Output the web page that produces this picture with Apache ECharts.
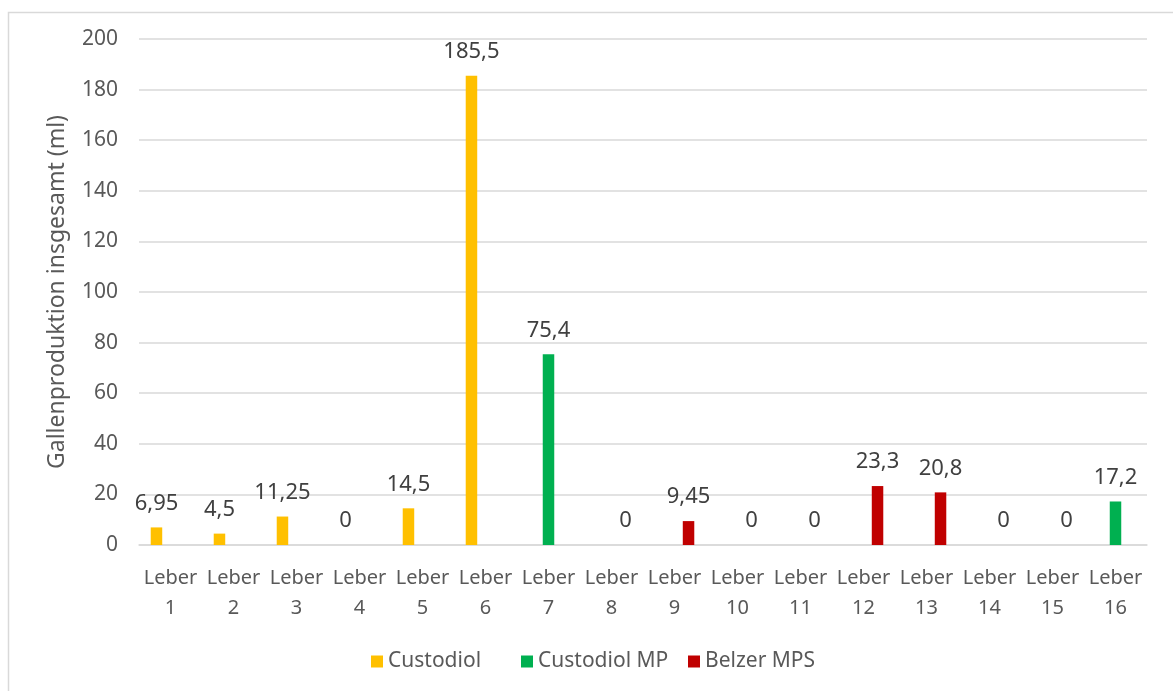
<!DOCTYPE html>
<html>
<head>
<meta charset="utf-8">
<script src="https://cdn.jsdelivr.net/npm/echarts@6/dist/echarts.min.js"></script>
<style>
html,body{margin:0;padding:0;background:#fff;}
#chart{width:1173px;height:691px;}
</style>
</head>
<body>
<div id="chart"></div>
<script>
const categories = ['Leber\n1','Leber\n2','Leber\n3','Leber\n4','Leber\n5','Leber\n6','Leber\n7','Leber\n8','Leber\n9','Leber\n10','Leber\n11','Leber\n12','Leber\n13','Leber\n14','Leber\n15','Leber\n16'];
const custodiol   = [6.95, 4.5, 11.25, 0, 14.5, 185.5, null, null, null, null, null, null, null, null, null, null];
const custodiolMP = [null, null, null, null, null, null, 75.4, null, null, null, null, null, null, null, null, 17.2];
const belzerMPS   = [null, null, null, null, null, null, null, 0, 9.45, 0, 0, 23.3, 20.8, 0, 0, null];
const yTicks = {min: 0, max: 200, interval: 20};
const seriesNames = ['Custodiol', 'Custodiol MP', 'Belzer MPS'];
const colors = ['#FFC000', '#00B050', '#C00000'];

const FONT = 'Noto Sans';
const TXT = '#595959';
const chart = echarts.init(document.getElementById('chart'), null, {renderer: 'canvas'});

function fmt(v){ return String(v).replace('.', ','); }

function mkSeries(name, data, color){
  return {
    name: name, type: 'bar', data: data,
    barWidth: 11.5, barGap: '22%',
    itemStyle: {color: color},
    label: {
      show: true, position: 'top', distance: 13,
      fontFamily: FONT, fontSize: 22, color: '#404040',
      formatter: p => p.value == null ? '' : fmt(p.value)
    }
  };
}

function mkLegend(name, left){
  return {
    data: [name], left: left, top: 646, itemWidth: 12, itemHeight: 12,
    itemGap: 6, icon: 'rect',
    textStyle: {fontFamily: FONT, fontSize: 21, color: TXT, padding: [0,0,0,0]}
  };
}

chart.setOption({
  animation: false,
  backgroundColor: '#fff',
  graphic: [{
    type: 'rect', left: 6, top: 10,
    shape: {width: 1200, height: 720},
    style: {fill: 'none', stroke: '#d9d9d9', lineWidth: 1.5}
  }],
  grid: {left: 139, right: 26, top: 39, bottom: 146},
  legend: [
    mkLegend(seriesNames[0], 366),
    mkLegend(seriesNames[1], 516),
    mkLegend(seriesNames[2], 683)
  ],
  xAxis: {
    type: 'category', data: categories,
    axisLine: {show: true, lineStyle: {color: '#d9d9d9', width: 1.5}},
    axisTick: {show: false},
    axisLabel: {
      interval: 0, margin: 18, lineHeight: 30,
      fontFamily: FONT, fontSize: 20, color: TXT
    }
  },
  yAxis: {
    type: 'value', min: yTicks.min, max: yTicks.max, interval: yTicks.interval,
    name: 'Gallenproduktion insgesamt (ml)', nameLocation: 'middle', nameGap: 70,
    nameTextStyle: {fontFamily: FONT, fontSize: 23, color: TXT},
    axisLine: {show: false}, axisTick: {show: false},
    splitLine: {lineStyle: {color: '#d9d9d9', width: 1.5}},
    axisLabel: {margin: 21, fontFamily: FONT, fontSize: 21, color: TXT}
  },
  series: [
    mkSeries(seriesNames[0], custodiol, colors[0]),
    mkSeries(seriesNames[1], custodiolMP, colors[1]),
    mkSeries(seriesNames[2], belzerMPS, colors[2])
  ]
});
</script>
</body>
</html>
